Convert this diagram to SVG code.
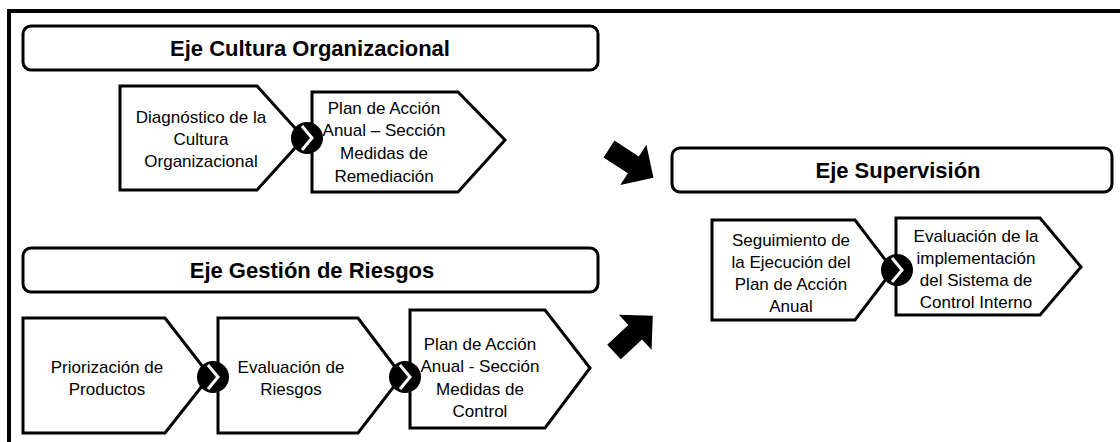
<svg xmlns="http://www.w3.org/2000/svg" width="1120" height="442" viewBox="0 0 1120 442">
<defs>
<style>
.frame{fill:none;stroke:#000;stroke-width:4}
.hdr{fill:#fff;stroke:#000;stroke-width:3}
.htxt{font-family:"Liberation Sans",Arial,sans-serif;font-weight:bold;font-size:22px;text-anchor:middle;fill:#000}
.node{fill:#fff;stroke:#000;stroke-width:3;stroke-linejoin:miter}
.ntxt{font-family:"Liberation Sans",Arial,sans-serif;font-size:17px;text-anchor:middle;fill:#000}
.dot{fill:#000}
.chev{fill:none;stroke:#fff;stroke-width:3}
.big{fill:#000}
</style>
<g id="joint">
<circle class="dot" cx="0" cy="0" r="16"/>
<polyline class="chev" points="-5,-12 5,0 -5,12"/>
</g>
<path id="barrow" d="M0,-10 L29,-10 L29,-24 L53,0 L29,24 L29,10 L0,10 Z"/>
</defs>
<rect width="1120" height="442" fill="#fff"/>
<rect class="frame" x="9" y="11" width="1200" height="500"/>

<g id="hdr-cultura">
<rect class="hdr" x="23" y="26" width="575" height="44" rx="8"/>
<text class="htxt" x="310" y="56">Eje Cultura Organizacional</text>
</g>
<g id="hdr-riesgos">
<rect class="hdr" x="23" y="248" width="575" height="44" rx="8"/>
<text class="htxt" x="312" y="278">Eje Gestión de Riesgos</text>
</g>
<g id="hdr-supervision">
<rect class="hdr" x="672" y="148" width="440" height="44" rx="8"/>
<text class="htxt" x="898" y="178">Eje Supervisión</text>
</g>

<g id="n-diagnostico">
<path class="node" d="M120,86 H257 L304,138 L257,190 H120 Z"/>
<text class="ntxt"><tspan x="201" y="123">Diagnóstico de la</tspan><tspan x="201" y="145">Cultura</tspan><tspan x="201" y="167">Organizacional</tspan></text>
</g>
<g id="n-plan-remediacion">
<path class="node" d="M312,92 H458 L505,140 L458,192 H312 Z"/>
<text class="ntxt"><tspan x="384" y="114">Plan de Acción</tspan><tspan x="384" y="136">Anual – Sección</tspan><tspan x="384" y="159">Medidas de</tspan><tspan x="384" y="182">Remediación</tspan></text>
</g>

<g id="n-priorizacion">
<path class="node" d="M23,318 H165 L210,376 L165,433 H23 Z"/>
<text class="ntxt"><tspan x="107" y="373">Priorización de</tspan><tspan x="107" y="395">Productos</tspan></text>
</g>
<g id="n-evaluacion-riesgos">
<path class="node" d="M218,318 H358 L402,376 L358,433 H218 Z"/>
<text class="ntxt"><tspan x="291" y="373">Evaluación de</tspan><tspan x="291" y="395">Riesgos</tspan></text>
</g>
<g id="n-plan-control">
<path class="node" d="M410,310 H545 L590,368 L545,428 H410 Z"/>
<text class="ntxt"><tspan x="480" y="350">Plan de Acción</tspan><tspan x="480" y="372">Anual - Sección</tspan><tspan x="480" y="395">Medidas de</tspan><tspan x="480" y="417">Control</tspan></text>
</g>

<g id="n-seguimiento">
<path class="node" d="M712,220 H855 L893,270 L855,320 H712 Z"/>
<text class="ntxt"><tspan x="791" y="246">Seguimiento de</tspan><tspan x="791" y="268">la Ejecución del</tspan><tspan x="791" y="290">Plan de Acción</tspan><tspan x="791" y="312">Anual</tspan></text>
</g>
<g id="n-evaluacion-sci">
<path class="node" d="M896,218 H1040 L1081,267 L1040,315 H896 Z"/>
<text class="ntxt"><tspan x="976" y="242">Evaluación de la</tspan><tspan x="976" y="264">implementación</tspan><tspan x="976" y="286">del Sistema de</tspan><tspan x="976" y="308">Control Interno</tspan></text>
</g>

<g id="connectors">
<use href="#joint" x="307" y="138"/>
<use href="#joint" x="213" y="377"/>
<use href="#joint" x="405" y="377"/>
<use href="#joint" x="897" y="270"/>
<use class="big" href="#barrow" transform="translate(609,149) rotate(33)"/>
<use class="big" href="#barrow" transform="translate(614,352) rotate(-43)"/>
</g>
</svg>
